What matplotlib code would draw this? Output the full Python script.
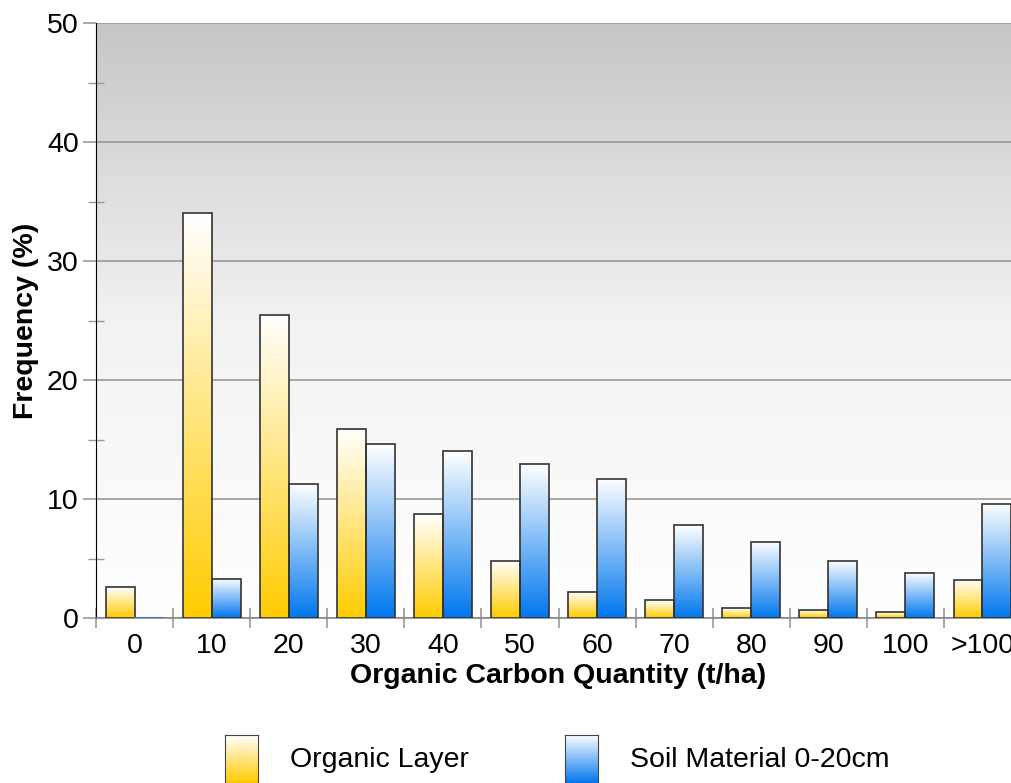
import matplotlib
matplotlib.use("Agg")
import matplotlib.pyplot as plt
import numpy as np
from matplotlib.colors import LinearSegmentedColormap
from matplotlib.patches import Rectangle

plt.rcParams['font.family'] = ['Liberation Sans', 'DejaVu Sans']

categories = ["0", "10", "20", "30", "40", "50", "60", "70", "80", "90", "100", ">100"]
organic_layer = [2.6, 34.0, 25.5, 15.9, 8.7, 4.8, 2.2, 1.5, 0.8, 0.7, 0.5, 3.2]
soil_material = [0.0, 3.3, 11.3, 14.6, 14.0, 12.9, 11.7, 7.8, 6.4, 4.8, 3.8, 9.6]
series_names = ["Organic Layer", "Soil Material 0-20cm"]

orange_cmap = LinearSegmentedColormap.from_list("o", ["#ffcc00", "#ffffff"])
blue_cmap = LinearSegmentedColormap.from_list("b", ["#0077ee", "#ffffff"])
bg_cmap = LinearSegmentedColormap.from_list("bg", ["#ffffff", "#f2f2f2", "#c6c6c6"])

FS = 20.5

fig = plt.figure(figsize=(10.11, 7.83), dpi=100)
ax = fig.add_axes([96/1011, 165/783, 925/1011, 595/783])

grad = np.linspace(0, 1, 256).reshape(-1, 1)
ax.imshow(grad, cmap=bg_cmap, origin='lower', extent=(0, 1, 0, 1),
          transform=ax.transAxes, aspect='auto', zorder=0)

n = len(categories)
x = np.arange(n)
bw = 0.375
for vals, cmap, off in [(organic_layer, orange_cmap, -bw), (soil_material, blue_cmap, 0)]:
    for xi, v in zip(x, vals):
        x0 = xi + 0.5 + off
        if v > 0:
            ax.imshow(grad, cmap=cmap, origin='lower', extent=(x0, x0 + bw, 0, v),
                      aspect='auto', zorder=3)
            ax.add_patch(Rectangle((x0, 0), bw, v, facecolor='none', edgecolor='#333333',
                                   linewidth=1.2, zorder=4))
        else:
            ax.plot([x0, x0 + bw], [0, 0], color='#2a7fd8', lw=1.5, zorder=4)

ax.set_xlim(0, n)
ax.set_ylim(0, 50)
ax.set_yticks(range(0, 51, 10))
ax.set_yticks(range(5, 50, 10), minor=True)
ax.yaxis.grid(True, which='major', color='#999999', linewidth=1.2, zorder=1)
ax.set_axisbelow(True)
ax.set_xticks(np.arange(0, n + 1))
ax.set_xticklabels([])
ax.set_xticks(x + 0.5, minor=True)
ax.set_xticklabels(categories, minor=True, fontsize=FS)
ax.tick_params(axis='x', which='minor', length=0, pad=11)
ax.tick_params(axis='x', which='major', direction='inout', length=15, color='#999999', width=1.2)
ax.tick_params(axis='y', which='major', direction='out', length=9.5, color='#999999', width=1.2,
               labelsize=FS, pad=3)
ax.tick_params(axis='y', which='minor', direction='inout', length=12, color='#999999', width=1)

for s in ['top', 'right']:
    ax.spines[s].set_visible(False)
ax.spines['left'].set_color('#000000')
ax.spines['bottom'].set_color('#888888')
ax.spines['bottom'].set_linewidth(1.2)

ax.set_xlabel("Organic Carbon Quantity (t/ha)", fontsize=FS, fontweight='bold', labelpad=3)
ax.set_ylabel("Frequency (%)", fontsize=FS, fontweight='bold', labelpad=6)

# legend
for (lx, tx, cmap, name) in [(225, 290, orange_cmap, series_names[0]), (565, 630, blue_cmap, series_names[1])]:
    lax = fig.add_axes([lx/1011, 0, 33/1011, 48/783])
    lax.imshow(grad, cmap=cmap, origin='lower', extent=(0, 1, 0, 1), aspect='auto')
    lax.set_xticks([]); lax.set_yticks([])
    for sp in lax.spines.values():
        sp.set_color('#444444')
    fig.text(tx/1011, 1 - 760/783, name, fontsize=FS, va='center', ha='left')

fig.savefig("out.png", dpi=100)
